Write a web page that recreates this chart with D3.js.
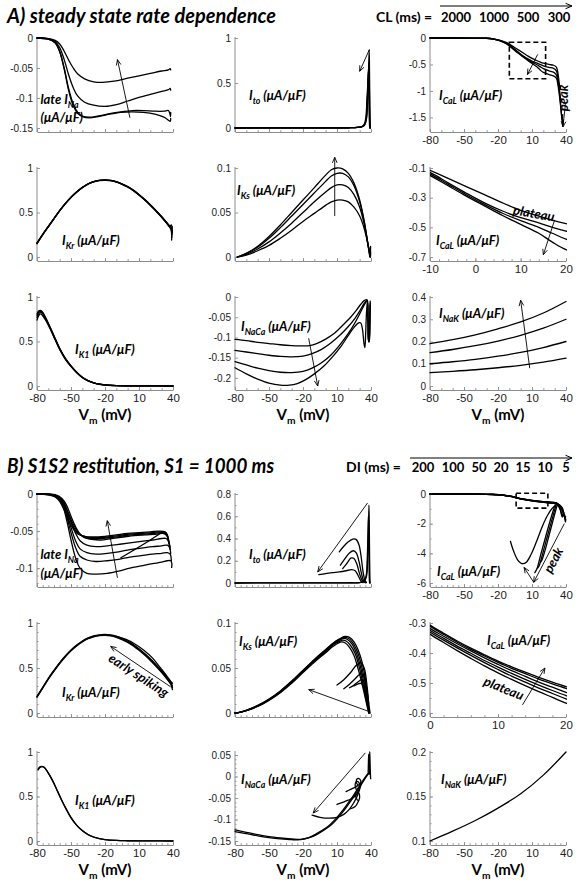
<!DOCTYPE html>
<html><head><meta charset="utf-8"><title>I-V relationships</title>
<script src="https://cdn.jsdelivr.net/npm/d3@7"></script>
<style>html,body{margin:0;padding:0;background:#fff;}</style></head>
<body><svg id="chart" width="576" height="881" xmlns="http://www.w3.org/2000/svg"></svg>
<script>
// ---------------- DATA ----------------
const vDomain = [-80, 40];
const vTicks = [-80, -50, -20, 10, 40];
const vTicksZoomA = [-10, 0, 10, 20];
const vTicksZoomB = [0, 10, 20];

const tLateNaA = [0, -0.05, -0.1, -0.15];
const tUnit = [0, 0.5, 1];
const tCaLA = [0, -0.5, -1, -1.5];
const tKs = [0, 0.05, 0.1];
const tCaLZoomA = [-0.1, -0.3, -0.5, -0.7];
const tNaCaA = [0, -0.05, -0.1, -0.15, -0.2];
const tNaKA = [0, 0.1, 0.2, 0.3, 0.4];
const tLateNaB = [0, -0.05, -0.1];
const tItoB = [0, 0.2, 0.4, 0.6, 0.8];
const tCaLB = [0, -2, -4, -6];
const tCaLZoomB = [-0.3, -0.4, -0.5, -0.6];
const tNaCaB = [0.05, 0, -0.05, -0.1, -0.15];
const tNaKB = [0.1, 0.15, 0.2];

const clValuesA = ["2000", "1000", "500", "300"];
const diValuesB = ["200", "100", "50", "20", "15", "10", "5"];

// A) late INa
const aLateNa2000 = [[-80,0],[-70,-0.002],[-64,-0.008],[-60,-0.023],[-56,-0.052],[-52,-0.088],[-48,-0.113],[-44,-0.126],[-40,-0.131],[-34,-0.133],[-26,-0.131],[-16,-0.127],[-6,-0.124],[4,-0.123],[14,-0.124],[24,-0.127],[32,-0.132],[36,-0.137],[37.5,-0.139],[38,-0.134]];
const aLateNa1000 = [[-80,0],[-70,-0.002],[-64,-0.008],[-60,-0.022],[-56,-0.05],[-52,-0.085],[-48,-0.11],[-44,-0.124],[-40,-0.13],[-34,-0.132],[-26,-0.13],[-16,-0.126],[-6,-0.123],[4,-0.121],[14,-0.121],[24,-0.122],[32,-0.122],[36,-0.121],[37.2,-0.126],[37.8,-0.131],[38,-0.124]];
const aLateNa500 = [[-80,0],[-70,-0.001],[-64,-0.006],[-60,-0.016],[-56,-0.036],[-52,-0.062],[-48,-0.083],[-44,-0.097],[-38,-0.107],[-30,-0.112],[-20,-0.114],[-10,-0.111],[0,-0.105],[10,-0.099],[20,-0.094],[30,-0.089],[36,-0.086],[37.5,-0.084],[38,-0.087]];
const aLateNa300 = [[-80,0],[-70,-0.001],[-64,-0.004],[-60,-0.01],[-56,-0.022],[-52,-0.037],[-48,-0.05],[-44,-0.06],[-38,-0.068],[-30,-0.073],[-22,-0.074],[-12,-0.072],[0,-0.067],[10,-0.063],[20,-0.059],[30,-0.055],[36,-0.053],[37.5,-0.051],[38,-0.053]];
const aLateNaArrow = [[2,-0.133],[-9,-0.036]];

// A) Ito
const aIto2000 = [[-80,0],[-40,0.001],[0,0.002],[20,0.003],[28,0.006],[32,0.014],[34.5,0.035],[36,0.1],[37,0.3],[37.8,0.6],[38.4,0.87],[38.7,0.6],[39,0.25],[39.3,0.04],[39.5,0]];
const aIto1000 = [[-80,0],[-40,0.001],[0,0.002],[20,0.003],[28,0.006],[32,0.014],[34.3,0.035],[35.8,0.1],[36.8,0.3],[37.6,0.55],[38.2,0.73],[38.5,0.5],[38.8,0.2],[39.1,0.03],[39.3,0]];
const aIto500 = [[-80,0],[-40,0.001],[0,0.002],[20,0.003],[28,0.006],[32,0.015],[34.1,0.035],[35.6,0.1],[36.6,0.3],[37.4,0.52],[38,0.69],[38.3,0.48],[38.6,0.2],[38.9,0.03],[39.1,0]];
const aIto300 = [[-80,0],[-40,0.001],[0,0.002],[20,0.003],[28,0.007],[32,0.016],[34,0.04],[35.4,0.11],[36.4,0.3],[37.2,0.5],[37.8,0.63],[38.1,0.45],[38.4,0.2],[38.7,0.03],[38.9,0]];
const aItoArrow = [[38.5,0.87],[30,0.63]];

// A) ICaL (full range; the zoomed plateau panel shows the same traces)
const aCaL2000 = [[-80,0],[-45,-0.001],[-30,-0.005],[-24,-0.018],[-18,-0.045],[-14,-0.075],[-10,-0.116],[-6,-0.17],[-2,-0.225],[2,-0.28],[6,-0.335],[10,-0.385],[14,-0.425],[17,-0.452],[20,-0.475],[25,-0.5],[29,-0.515],[31.5,-0.55],[33,-0.68],[34,-0.85],[34.8,-0.97],[35.4,-0.9]];
const aCaL1000 = [[-80,0],[-45,-0.001],[-30,-0.005],[-24,-0.02],[-18,-0.05],[-14,-0.085],[-10,-0.13],[-6,-0.2],[-2,-0.27],[2,-0.335],[6,-0.39],[10,-0.435],[14,-0.47],[17,-0.5],[20,-0.525],[25,-0.555],[29,-0.575],[31.5,-0.62],[33,-0.78],[34.5,-1.02],[35.6,-1.22],[36.2,-1.15]];
const aCaL500 = [[-80,0],[-45,-0.001],[-30,-0.005],[-24,-0.021],[-18,-0.053],[-14,-0.09],[-10,-0.14],[-6,-0.21],[-2,-0.28],[2,-0.345],[6,-0.405],[10,-0.455],[14,-0.5],[17,-0.54],[20,-0.58],[25,-0.62],[29,-0.645],[31.5,-0.7],[33,-0.85],[34.6,-1.1],[35.9,-1.42],[36.6,-1.56],[37.1,-1.45]];
const aCaL300 = [[-80,0],[-45,-0.001],[-30,-0.006],[-24,-0.022],[-18,-0.056],[-14,-0.095],[-10,-0.15],[-6,-0.22],[-2,-0.29],[2,-0.355],[6,-0.42],[10,-0.48],[14,-0.54],[17,-0.6],[20,-0.65],[25,-0.69],[29,-0.715],[31.5,-0.76],[33,-0.9],[34.8,-1.2],[36.3,-1.5],[37.2,-1.67],[37.7,-1.55]];
const aCaLBox = [[-10,-0.08],[22,-0.77]];
const aCaLBoxArrow = [[15,-0.31],[6,-0.69]];
const aCaLPeakArrow = [[39.5,-1.25],[37.3,-1.68]];
const aCaLPlateauArrow = [[17.5,-0.45],[15,-0.685]];

// A) IKr
const aKr2000 = [[-80,0.15],[-75,0.25],[-70,0.34],[-65,0.43],[-60,0.52],[-55,0.6],[-50,0.67],[-45,0.73],[-40,0.78],[-35,0.82],[-30,0.845],[-25,0.86],[-20,0.865],[-15,0.86],[-10,0.845],[-5,0.82],[0,0.79],[5,0.75],[10,0.7],[15,0.645],[20,0.585],[25,0.52],[30,0.45],[34,0.39],[37,0.34],[38.5,0.3],[39,0.22]];
const aKr1000 = [[-80,0.16],[-75,0.255],[-70,0.345],[-65,0.435],[-60,0.522],[-55,0.602],[-50,0.672],[-45,0.732],[-40,0.782],[-35,0.822],[-30,0.848],[-25,0.862],[-20,0.867],[-15,0.862],[-10,0.847],[-5,0.822],[0,0.792],[5,0.752],[10,0.703],[15,0.648],[20,0.588],[25,0.524],[30,0.455],[34,0.396],[37,0.35],[38.5,0.33],[39,0.26],[39.3,0.34]];
const aKr500 = [[-80,0.155],[-75,0.252],[-70,0.342],[-65,0.432],[-60,0.52],[-55,0.6],[-50,0.67],[-45,0.73],[-40,0.78],[-35,0.82],[-30,0.846],[-25,0.86],[-20,0.864],[-15,0.858],[-10,0.843],[-5,0.818],[0,0.787],[5,0.747],[10,0.697],[15,0.642],[20,0.582],[25,0.517],[30,0.448],[34,0.388],[37,0.345],[38.6,0.36],[39.2,0.25],[39.5,0.3]];
const aKr300 = [[-80,0.15],[-75,0.249],[-70,0.339],[-65,0.429],[-60,0.518],[-55,0.598],[-50,0.668],[-45,0.728],[-40,0.778],[-35,0.818],[-30,0.843],[-25,0.858],[-20,0.862],[-15,0.857],[-10,0.842],[-5,0.817],[0,0.786],[5,0.746],[10,0.696],[15,0.641],[20,0.581],[25,0.516],[30,0.446],[34,0.386],[37,0.335],[38.3,0.31],[38.8,0.19]];

// A) IKs
const aKs300 = [[-78,0],[-70,0.004],[-60,0.012],[-50,0.023],[-40,0.036],[-30,0.05],[-20,0.064],[-10,0.078],[0,0.092],[5,0.098],[10,0.1],[15,0.099],[20,0.094],[25,0.083],[30,0.064],[34,0.04],[37,0.016],[38.5,0.004],[39,0],[39.4,0.01],[39.7,0.002]];
const aKs500 = [[-78,0],[-70,0.004],[-60,0.011],[-50,0.021],[-40,0.033],[-30,0.046],[-20,0.059],[-10,0.072],[0,0.085],[5,0.091],[10,0.094],[15,0.094],[20,0.09],[25,0.08],[30,0.062],[34,0.04],[37,0.017],[38.5,0.005],[39.2,0]];
const aKs1000 = [[-78,0],[-70,0.003],[-60,0.009],[-50,0.017],[-40,0.027],[-30,0.038],[-20,0.05],[-10,0.062],[0,0.073],[5,0.078],[10,0.081],[15,0.081],[20,0.078],[25,0.07],[30,0.056],[34,0.037],[37,0.017],[38.7,0.005],[39.4,0],[39.6,0.012]];
const aKs2000 = [[-78,0],[-70,0.002],[-60,0.007],[-50,0.013],[-40,0.021],[-30,0.03],[-20,0.04],[-10,0.049],[0,0.058],[5,0.062],[10,0.064],[15,0.064],[20,0.062],[25,0.056],[30,0.046],[34,0.032],[37,0.016],[38.8,0.005],[39.6,0]];
const aKsArrow = [[8,0.046],[8,0.112]];

// A) IK1
const aK1_2000 = [[-80,0.74],[-78.5,0.79],[-77,0.81],[-75,0.79],[-72,0.73],[-68,0.63],[-64,0.52],[-60,0.41],[-55,0.3],[-50,0.22],[-45,0.15],[-40,0.095],[-35,0.058],[-30,0.034],[-25,0.019],[-20,0.011],[-10,0.004],[0,0.002],[20,0.001],[40,0]];
const aK1_1000 = [[-80,0.77],[-78.5,0.81],[-77,0.83],[-75,0.81],[-72,0.745],[-68,0.64],[-64,0.525],[-60,0.415],[-55,0.305],[-50,0.222],[-45,0.152],[-40,0.096],[-35,0.059],[-30,0.035],[-25,0.02],[-20,0.011],[-10,0.004],[0,0.002],[20,0.001],[40,0]];
const aK1_500 = [[-80,0.79],[-78.5,0.83],[-77,0.84],[-75,0.82],[-72,0.75],[-68,0.645],[-64,0.53],[-60,0.42],[-55,0.31],[-50,0.225],[-45,0.154],[-40,0.097],[-35,0.06],[-30,0.035],[-25,0.02],[-20,0.012],[-10,0.004],[0,0.002],[20,0.001],[40,0]];
const aK1_300 = [[-80,0.81],[-78.5,0.845],[-77,0.85],[-75,0.83],[-72,0.76],[-68,0.65],[-64,0.535],[-60,0.425],[-55,0.312],[-50,0.227],[-45,0.155],[-40,0.098],[-35,0.06],[-30,0.036],[-25,0.02],[-20,0.012],[-10,0.004],[0,0.002],[20,0.001],[40,0]];

// A) INaCa
const aNaCa2000 = [[-80,-0.105],[-70,-0.108],[-60,-0.112],[-50,-0.115],[-40,-0.118],[-30,-0.12],[-20,-0.121],[-14,-0.12],[-8,-0.115],[0,-0.104],[8,-0.089],[15,-0.07],[22,-0.05],[27,-0.033],[31,-0.018],[34,-0.009],[36.5,-0.007],[37.2,-0.04],[37.6,-0.1],[38,-0.11],[38.6,-0.1],[39,-0.05],[39.3,-0.01]];
const aNaCa1000 = [[-80,-0.132],[-70,-0.136],[-60,-0.14],[-50,-0.144],[-40,-0.147],[-30,-0.148],[-20,-0.146],[-12,-0.14],[-4,-0.13],[4,-0.115],[12,-0.096],[20,-0.073],[26,-0.052],[30,-0.035],[33,-0.02],[35,-0.012],[36.5,-0.009],[37.3,-0.05],[37.7,-0.105],[38.2,-0.112],[38.8,-0.08],[39.2,-0.02]];
const aNaCa500 = [[-80,-0.16],[-70,-0.168],[-60,-0.176],[-50,-0.182],[-40,-0.186],[-30,-0.187],[-20,-0.184],[-12,-0.176],[-4,-0.163],[4,-0.145],[12,-0.12],[20,-0.09],[26,-0.063],[30,-0.042],[33,-0.025],[35,-0.015],[36.5,-0.01],[37.5,-0.06],[38,-0.108],[38.5,-0.11],[39,-0.06],[39.4,-0.015]];
const aNaCa300 = [[-80,-0.175],[-70,-0.19],[-60,-0.203],[-50,-0.213],[-40,-0.218],[-32,-0.218],[-25,-0.214],[-18,-0.205],[-10,-0.19],[-2,-0.172],[6,-0.148],[14,-0.12],[20,-0.095],[25,-0.075],[29,-0.064],[31,-0.064],[32.5,-0.08],[33.8,-0.115],[34.6,-0.125],[35.3,-0.09],[36,-0.04],[36.8,-0.012]];
const aNaCaArrow = [[-15,-0.102],[-7,-0.22]];

// A) INaK
const aNaK300 = [[-80,0.19],[-60,0.208],[-40,0.23],[-20,0.257],[0,0.288],[20,0.328],[40,0.38]];
const aNaK500 = [[-80,0.15],[-60,0.164],[-40,0.181],[-20,0.202],[0,0.228],[20,0.26],[40,0.3]];
const aNaK1000 = [[-80,0.1],[-60,0.109],[-40,0.12],[-20,0.134],[0,0.151],[20,0.173],[40,0.2]];
const aNaK2000 = [[-80,0.06],[-60,0.066],[-40,0.073],[-20,0.082],[0,0.093],[20,0.107],[40,0.125]];
const aNaKArrow = [[8,0.08],[0,0.385]];

// B) late INa
const bLateNa1 = [[-80,0],[-70,-0.001],[-64,-0.004],[-60,-0.01],[-56,-0.022],[-52,-0.036],[-48,-0.047],[-44,-0.054],[-38,-0.057],[-30,-0.058],[-20,-0.057],[-10,-0.055],[0,-0.053],[10,-0.052],[20,-0.051],[28,-0.05],[33,-0.051],[35,-0.055],[36,-0.062]];
const bLateNa2 = [[-80,0],[-68,-0.001],[-62,-0.004],[-58,-0.011],[-54,-0.024],[-50,-0.038],[-46,-0.049],[-42,-0.055],[-36,-0.058],[-28,-0.059],[-18,-0.058],[-8,-0.056],[2,-0.054],[12,-0.053],[22,-0.052],[29,-0.051],[33.5,-0.052],[35.5,-0.058],[36.5,-0.066]];
const bLateNa3 = [[-80,0],[-66,-0.001],[-60,-0.005],[-56,-0.013],[-52,-0.027],[-48,-0.041],[-44,-0.051],[-40,-0.057],[-34,-0.06],[-26,-0.06],[-16,-0.059],[-6,-0.057],[4,-0.055],[14,-0.054],[24,-0.053],[30,-0.052],[34,-0.054],[36,-0.062],[37,-0.07]];
const bLateNa4 = [[-80,0],[-64,-0.001],[-58,-0.006],[-54,-0.015],[-50,-0.03],[-46,-0.044],[-42,-0.054],[-38,-0.059],[-32,-0.061],[-24,-0.062],[-14,-0.06],[-4,-0.058],[6,-0.056],[16,-0.055],[26,-0.054],[31,-0.053],[34.5,-0.056],[36.5,-0.066],[37.5,-0.075]];
const bLateNa5 = [[-80,0],[-64,-0.002],[-58,-0.008],[-54,-0.02],[-50,-0.037],[-46,-0.053],[-42,-0.063],[-36,-0.069],[-28,-0.071],[-18,-0.07],[-8,-0.068],[2,-0.066],[12,-0.064],[22,-0.062],[30,-0.06],[34,-0.06],[36,-0.064],[37.5,-0.072]];
const bLateNa6 = [[-80,0],[-64,-0.002],[-58,-0.01],[-54,-0.025],[-50,-0.045],[-46,-0.063],[-42,-0.074],[-36,-0.079],[-28,-0.081],[-18,-0.08],[-8,-0.078],[2,-0.075],[12,-0.073],[22,-0.071],[30,-0.07],[35,-0.069],[37,-0.072],[38,-0.08]];
const bLateNa7 = [[-80,0],[-64,-0.002],[-58,-0.011],[-54,-0.029],[-50,-0.052],[-46,-0.072],[-42,-0.084],[-36,-0.089],[-28,-0.091],[-18,-0.09],[-8,-0.088],[2,-0.085],[12,-0.083],[22,-0.081],[30,-0.08],[35,-0.079],[37.5,-0.081],[38.5,-0.09]];
const bLateNa8 = [[-80,0],[-64,-0.003],[-58,-0.013],[-54,-0.034],[-50,-0.062],[-46,-0.086],[-42,-0.1],[-36,-0.107],[-28,-0.108],[-18,-0.107],[-8,-0.104],[2,-0.1],[12,-0.097],[22,-0.094],[30,-0.092],[35,-0.09],[38,-0.09],[39,-0.094],[38.8,-0.099]];
const bLateNaTrace = [[-6,-0.086],[6,-0.075],[18,-0.064],[31,-0.051]];
const bLateNaArrow = [[-9,-0.113],[-18,-0.036]];

// B) Ito
const bIto1 = [[-80,0],[-40,0.001],[0,0.001],[20,0.002],[30,0.004],[34,0.015],[36,0.06],[37,0.2],[37.7,0.45],[38.2,0.7],[38.5,0.5],[38.8,0.2],[39.1,0.03],[39.3,0]];
const bIto2 = [[-80,0],[-40,0.001],[0,0.001],[20,0.002],[30,0.004],[34,0.016],[35.8,0.07],[36.7,0.22],[37.3,0.45],[37.7,0.6],[38,0.42],[38.3,0.15],[38.6,0.02],[38.8,0]];
const bIto3 = [[12,0.28],[16,0.33],[20,0.37],[24,0.395],[27,0.39],[29.5,0.34],[31.5,0.22],[33,0.1],[34.5,0.03],[36,0.005]];
const bIto4 = [[13,0.16],[17,0.22],[21,0.27],[24.5,0.29],[27,0.27],[29.5,0.19],[31.5,0.09],[33.5,0.02],[35.5,0.003]];
const bIto5 = [[15,0.13],[19,0.18],[22.5,0.225],[25,0.22],[27.5,0.17],[30,0.08],[32.5,0.02],[35,0.002]];
const bIto6 = [[-6,0.075],[0,0.085],[6,0.093],[12,0.1],[18,0.11],[23,0.12],[26,0.11],[28.5,0.07],[31,0.02],[33,0.003]];
const bItoArrow = [[37,0.72],[-7,0.1]];

// B) ICaL (full range; zoomed plateau panel shows the same traces)
const bCaL1 = [[-80,0],[-40,-0.008],[-25,-0.03],[-15,-0.08],[-8,-0.16],[-4,-0.23],[0,-0.307],[2,-0.334],[4,-0.36],[6,-0.384],[8,-0.406],[10,-0.427],[12,-0.446],[14,-0.464],[16,-0.481],[18,-0.497],[20,-0.512],[23,-0.532],[26,-0.55],[29,-0.565],[31.5,-0.6],[33.5,-0.75],[35,-1.05],[36.2,-1.45],[36.8,-1.55],[37.3,-1.35]];
const bCaL2 = [[-80,0],[-40,-0.008],[-25,-0.031],[-15,-0.082],[-8,-0.163],[-4,-0.235],[0,-0.311],[2,-0.338],[4,-0.364],[6,-0.388],[8,-0.41],[10,-0.431],[12,-0.451],[14,-0.469],[16,-0.487],[18,-0.503],[20,-0.518],[23,-0.538],[26,-0.556],[29,-0.572],[32,-0.62],[34,-0.8],[35.6,-1.2],[36.8,-1.5],[37.5,-1.4]];
const bCaL3 = [[-80,0],[-40,-0.008],[-25,-0.032],[-15,-0.085],[-8,-0.167],[-4,-0.242],[0,-0.318],[2,-0.344],[4,-0.369],[6,-0.393],[8,-0.416],[10,-0.438],[12,-0.459],[14,-0.478],[16,-0.497],[18,-0.514],[20,-0.531],[23,-0.553],[26,-0.572],[29,-0.59],[32.5,-0.65],[35,-0.85],[37,-1.2],[38.2,-1.5],[38.8,-1.4]];
const bCaL4 = [[-80,0],[-40,-0.009],[-25,-0.033],[-15,-0.087],[-8,-0.171],[-4,-0.248],[0,-0.324],[2,-0.351],[4,-0.377],[6,-0.401],[8,-0.425],[10,-0.447],[12,-0.468],[14,-0.488],[16,-0.507],[18,-0.525],[20,-0.542],[23,-0.565],[26,-0.585],[29,-0.603],[33,-0.68],[36,-0.9],[38.2,-1.3],[39.2,-1.7],[39.6,-1.5]];
const bCaL5 = [[-80,0],[-40,-0.009],[-25,-0.034],[-15,-0.089],[-8,-0.175],[-4,-0.253],[0,-0.33],[2,-0.357],[4,-0.383],[6,-0.408],[8,-0.432],[10,-0.455],[12,-0.477],[14,-0.497],[16,-0.517],[18,-0.535],[20,-0.553],[23,-0.578],[26,-0.6],[29,-0.62],[32,-0.67],[34.5,-0.75],[36.8,-0.95],[38.6,-1.5],[39.5,-1.9],[39.8,-1.7]];
const bCaL6 = [[-80,0],[-40,-0.009],[-25,-0.035],[-15,-0.091],[-8,-0.18],[-4,-0.26],[0,-0.337],[2,-0.365],[4,-0.392],[6,-0.418],[8,-0.443],[10,-0.466],[12,-0.488],[14,-0.509],[16,-0.529],[18,-0.548],[20,-0.567],[23,-0.592],[26,-0.615],[29,-0.635],[31.5,-0.7],[33.5,-0.85],[35.5,-1.1],[36.5,-1.0]];
const bCaLS2a = [[30,-0.8],[26,-1.8],[22,-2.9],[18,-4.0],[14.5,-5.0],[12.5,-5.3]];
const bCaLS2b = [[31,-0.8],[27,-1.9],[23,-3.0],[19.5,-4.0],[16.5,-4.8],[15,-5.0]];
const bCaLS2c = [[32,-0.8],[28.5,-1.8],[25,-2.8],[21.5,-3.8],[18.5,-4.5],[17.5,-4.6]];
const bCaLU = [[-9,-3.2],[-6,-3.9],[-3,-4.4],[0,-4.65],[2,-4.7],[5,-4.6],[9,-4.1],[14,-3.2],[19,-2.2],[24,-1.4],[28,-0.95],[31,-0.75]];
const bCaLBox = [[-4,0.05],[24,-0.95]];
const bCaLPeakArrow1 = [[38.5,-2.0],[11.5,-5.95]];
const bCaLPeakArrow2 = [[11.5,-5.95],[3,-4.95]];
const bCaLPlateauArrow = [[13.6,-0.573],[16.9,-0.45]];

// B) IKr
const bKr1 = [[-80,0.18],[-75,0.28],[-70,0.38],[-65,0.47],[-60,0.555],[-55,0.63],[-50,0.695],[-45,0.75],[-40,0.795],[-35,0.83],[-30,0.852],[-25,0.864],[-20,0.867],[-15,0.862],[-10,0.847],[-5,0.823],[0,0.792],[5,0.752],[10,0.705],[15,0.652],[20,0.593],[25,0.528],[30,0.458],[35,0.382],[38,0.335],[39.5,0.3]];
const bKr2 = [[-80,0.185],[-75,0.285],[-70,0.385],[-65,0.475],[-60,0.56],[-55,0.635],[-50,0.7],[-45,0.755],[-40,0.8],[-35,0.835],[-30,0.857],[-25,0.869],[-20,0.872],[-15,0.867],[-10,0.853],[-5,0.83],[0,0.8],[5,0.76],[10,0.713],[15,0.66],[20,0.602],[25,0.538],[30,0.468],[35,0.392],[38,0.345],[39.5,0.28]];
const bKr3 = [[-80,0.175],[-75,0.275],[-70,0.375],[-65,0.465],[-60,0.55],[-55,0.625],[-50,0.69],[-45,0.745],[-40,0.79],[-35,0.825],[-30,0.847],[-25,0.859],[-20,0.862],[-15,0.857],[-10,0.841],[-5,0.816],[0,0.785],[5,0.744],[10,0.696],[15,0.643],[20,0.583],[25,0.518],[30,0.448],[35,0.372],[38,0.32],[39.5,0.26]];
const bKrEarly = [[-10,0.85],[-2,0.82],[6,0.77],[14,0.7],[22,0.61],[29,0.5],[34,0.42],[37.5,0.36],[39.5,0.33]];
const bKrArrow = [[38,0.29],[-15,0.74]];

// B) IKs
const bKs1 = [[-80,0],[-75,0.001],[-70,0.003],[-60,0.008],[-50,0.015],[-40,0.024],[-30,0.035],[-20,0.047],[-10,0.059],[0,0.07],[6,0.077],[12,0.082],[17,0.085],[21,0.084],[25,0.079],[29,0.069],[32,0.057],[35,0.038],[37,0.02],[38.5,0.006],[39.2,0]];
const bKs2 = [[-80,0],[-75,0.001],[-70,0.003],[-60,0.0085],[-50,0.0155],[-40,0.0245],[-30,0.0355],[-20,0.0475],[-10,0.0595],[0,0.0705],[6,0.077],[12,0.082],[16,0.084],[20,0.083],[24,0.078],[28,0.068],[31,0.056],[34,0.038],[36.5,0.02],[38,0.006],[38.8,0]];
const bKs3 = [[-80,0],[-75,0.001],[-70,0.0028],[-60,0.0078],[-50,0.0148],[-40,0.0238],[-30,0.0345],[-20,0.0465],[-10,0.0585],[0,0.069],[6,0.076],[12,0.081],[16,0.083],[19,0.082],[23,0.077],[27,0.067],[30,0.055],[33,0.038],[35.5,0.02],[37.5,0.006],[38.5,0]];
const bKs4 = [[-80,0],[-75,0.001],[-70,0.0027],[-60,0.0075],[-50,0.0145],[-40,0.0232],[-30,0.0338],[-20,0.0458],[-10,0.0575],[0,0.068],[6,0.075],[11,0.079],[15,0.081],[18,0.08],[22,0.075],[26,0.066],[29,0.054],[32,0.038],[34.5,0.022],[37,0.007],[38.3,0]];
const bKs5 = [[-80,0],[-75,0.001],[-70,0.0026],[-60,0.0072],[-50,0.014],[-40,0.0226],[-30,0.033],[-20,0.045],[-10,0.0565],[0,0.067],[6,0.0735],[10,0.077],[14,0.079],[17,0.078],[21,0.073],[25,0.064],[28,0.052],[31,0.038],[34,0.022],[36.5,0.008],[38,0]];
const bKsArc1 = [[10,0.031],[16,0.037],[22,0.045],[27,0.053],[31,0.056],[34,0.05],[36.5,0.03],[38,0.01]];
const bKsArc2 = [[16,0.027],[21,0.032],[26,0.038],[30,0.043],[33,0.043],[35.5,0.032],[37.5,0.012]];
const bKsArc3 = [[21,0.028],[25,0.031],[29,0.035],[32,0.037],[34.5,0.032],[36.5,0.018],[38,0.005]];
const bKsArc4 = [[25,0.03],[28,0.032],[31,0.033],[33.5,0.03],[35.5,0.02],[37,0.008]];
const bKsArrow = [[37.5,0.002],[-15,0.026]];

// B) IK1
const bK1a = [[-79,0.8],[-77,0.83],[-74,0.83],[-70,0.76],[-66,0.67],[-62,0.56],[-58,0.45],[-54,0.35],[-50,0.26],[-45,0.175],[-40,0.115],[-35,0.072],[-30,0.044],[-25,0.026],[-20,0.015],[-10,0.006],[0,0.003],[20,0.001],[40,0]];
const bK1b = [[-79,0.81],[-77,0.835],[-74,0.832],[-70,0.765],[-66,0.675],[-62,0.565],[-58,0.455],[-54,0.355],[-50,0.265],[-45,0.178],[-40,0.117],[-35,0.073],[-30,0.045],[-25,0.027],[-20,0.016],[-10,0.006],[0,0.003],[20,0.001],[40,0]];

// B) INaCa
const bNaCa1 = [[-80,-0.124],[-70,-0.13],[-60,-0.135],[-50,-0.14],[-40,-0.143],[-30,-0.145],[-22,-0.146],[-15,-0.142],[-8,-0.133],[0,-0.12],[5,-0.109],[10,-0.095],[15,-0.079],[20,-0.061],[25,-0.042],[30,-0.021],[34,-0.005],[37,0.006],[38.5,0.01]];
const bNaCa2 = [[-80,-0.128],[-70,-0.133],[-60,-0.138],[-50,-0.142],[-40,-0.145],[-30,-0.147],[-22,-0.147],[-15,-0.143],[-8,-0.135],[0,-0.122],[5,-0.112],[10,-0.099],[15,-0.083],[20,-0.065],[25,-0.046],[30,-0.025],[34,-0.008],[37,0.004],[38.5,0.009]];
const bNaCaUp1 = [[38.3,0.005],[38.6,0.035],[38.9,0.058],[39.2,0.03],[39.5,0.005],[39.7,-0.005]];
const bNaCaUp2 = [[37.5,0.01],[37.8,0.04],[38,0.052],[38.3,0.02]];
const bNaCaCurl1 = [[-12,-0.09],[-5,-0.095],[3,-0.097],[10,-0.095],[16,-0.088],[21,-0.076],[25,-0.06],[28,-0.045],[30,-0.03],[31,-0.02]];
const bNaCaCurl2 = [[10,-0.065],[15,-0.06],[20,-0.055],[24,-0.05],[27,-0.043],[29,-0.033],[30,-0.022],[29,-0.013],[27,-0.012],[26,-0.02],[27,-0.03]];
const bNaCaCurl3 = [[18,-0.035],[22,-0.03],[26,-0.025],[29,-0.02],[31,-0.014],[30,-0.006],[28,-0.005],[27,-0.012],[28.5,-0.02]];
const bNaCaCurl4 = [[22,-0.075],[26,-0.07],[28.5,-0.06],[30,-0.048],[29,-0.038],[27,-0.038],[26.5,-0.047],[28,-0.055]];
const bNaCaArrow = [[35,0.055],[-11,-0.085]];

// B) INaK
const bNaK = [[-80,0.1],[-60,0.111],[-40,0.123],[-20,0.137],[0,0.153],[20,0.174],[40,0.2]];

// ---------------- LAYOUT ----------------
const colX = [37, 235, 430], W = 136;
const rowTop = [[38, 168, 297], [494, 623, 752]];
const rowBot = [[128, 257, 386], [583, 713, 841]];
const GAP = 4;
const tickFont = "'Liberation Sans', Arial, Helvetica, sans-serif";
const labFont = "Lato, 'Open Sans', 'DejaVu Sans', sans-serif";
const axisColor = "#8c8c8c";
const clCentersA = [456, 494, 528, 559];
const diCentersB = [423, 453, 479, 501, 523, 545, 566];

const I = (sub) => [["I"], [sub, "s"], [" (\u03bcA/\u03bcF)"]];

const panels = [
  {s:0,r:0,c:0, yd:[-0.15,0], yt:tLateNaA, curves:[aLateNa2000,aLateNa1000,aLateNa500,aLateNa300], arrows:[aLateNaArrow],
    texts:[{p:[["late I"],["Na","s"]],dx:3.5,dy:66},{p:[["(\u03bcA/\u03bcF)"]],dx:3.5,dy:84}]},
  {s:0,r:0,c:1, yd:[0,1], yt:tUnit, curves:[aIto2000,aIto1000,aIto500,aIto300], arrows:[aItoArrow],
    texts:[{p:I("to"),dx:14,dy:62}]},
  {s:0,r:0,c:2, yd:[-1.7,0], yt:tCaLA, xl:true, curves:[aCaL2000,aCaL1000,aCaL500,aCaL300], arrows:[aCaLBoxArrow,aCaLPeakArrow], box:aCaLBox,
    texts:[{p:I("CaL"),dx:9,dy:62},{p:[["peak"]],dx:133,dy:60,rot:-90}]},
  {s:0,r:1,c:0, yd:[0,1], yt:tUnit, curves:[aKr2000,aKr1000,aKr500,aKr300], arrows:[],
    texts:[{p:I("Kr"),dx:25,dy:77}]},
  {s:0,r:1,c:1, yd:[0,0.1], yt:tKs, curves:[aKs2000,aKs1000,aKs500,aKs300], arrows:[aKsArrow],
    texts:[{p:I("Ks"),dx:2,dy:27}]},
  {s:0,r:1,c:2, yd:[-0.7,-0.1], yt:tCaLZoomA, xd:[-10,20], xt:vTicksZoomA, xl:true, clip:true, curves:[aCaL2000,aCaL1000,aCaL500,aCaL300], arrows:[aCaLPlateauArrow],
    texts:[{p:I("CaL"),dx:6,dy:77},{p:[["plateau"]],dx:104,dy:45,rot:10}]},
  {s:0,r:2,c:0, yd:[0,1], yt:tUnit, xl:true, curves:[aK1_2000,aK1_1000,aK1_500,aK1_300], arrows:[],
    texts:[{p:I("K1"),dx:38,dy:57}]},
  {s:0,r:2,c:1, yd:[-0.22,0], yt:tNaCaA, xl:true, curves:[aNaCa2000,aNaCa1000,aNaCa500,aNaCa300], arrows:[aNaCaArrow],
    texts:[{p:I("NaCa"),dx:6,dy:34}]},
  {s:0,r:2,c:2, yd:[0,0.4], yt:tNaKA, xl:true, curves:[aNaK2000,aNaK1000,aNaK500,aNaK300], arrows:[aNaKArrow],
    texts:[{p:I("NaK"),dx:9,dy:21}]},

  {s:1,r:0,c:0, yd:[-0.12,0], yt:tLateNaB, minor:0.01, curves:[bLateNa1,bLateNa2,bLateNa3,bLateNa4,bLateNa5,bLateNa6,bLateNa7,bLateNa8,bLateNaTrace], arrows:[bLateNaArrow],
    texts:[{p:[["late I"],["Na","s"]],dx:3.5,dy:65},{p:[["(\u03bcA/\u03bcF)"]],dx:3.5,dy:84}]},
  {s:1,r:0,c:1, yd:[0,0.8], yt:tItoB, minor:0.1, curves:[bIto1,bIto2,bIto3,bIto4,bIto5,bIto6], arrows:[bItoArrow],
    texts:[{p:I("to"),dx:14,dy:65}]},
  {s:1,r:0,c:2, yd:[-6,0], yt:tCaLB, minor:1, xl:true, curves:[bCaL1,bCaL2,bCaL3,bCaL4,bCaL5,bCaL6,bCaLS2a,bCaLS2b,bCaLS2c,bCaLU], arrows:[bCaLPeakArrow1,bCaLPeakArrow2], box:bCaLBox,
    texts:[{p:I("CaL"),dx:7,dy:82},{p:[["peak"]],dx:123,dy:66,rot:-62}]},
  {s:1,r:1,c:0, yd:[0,1], yt:tUnit, minor:0.1, curves:[bKr1,bKr2,bKr3,bKrEarly], arrows:[bKrArrow],
    texts:[{p:I("Kr"),dx:25,dy:74},{p:[["early spiking"]],dx:102,dy:52,rot:33}]},
  {s:1,r:1,c:1, yd:[0,0.1], yt:tKs, minor:0.01, curves:[bKs1,bKs2,bKs3,bKs4,bKs5,bKsArc1,bKsArc2,bKsArc3,bKsArc4], arrows:[bKsArrow],
    texts:[{p:I("Ks"),dx:4,dy:23}]},
  {s:1,r:1,c:2, yd:[-0.6,-0.3], yt:tCaLZoomB, minor:0.05, xd:[0,20], xt:vTicksZoomB, xl:true, clip:true, curves:[bCaL1,bCaL2,bCaL3,bCaL4,bCaL5,bCaL6], arrows:[bCaLPlateauArrow],
    texts:[{p:I("CaL"),dx:57,dy:22},{p:[["plateau"]],dx:74,dy:65,rot:22}]},
  {s:1,r:2,c:0, yd:[0,1], yt:tUnit, minor:0.1, xl:true, curves:[bK1a,bK1b], arrows:[],
    texts:[{p:I("K1"),dx:38,dy:53}]},
  {s:1,r:2,c:1, yd:[-0.15,0.057], yt:tNaCaB, minor:0.01, xl:true, curves:[bNaCa1,bNaCa2,bNaCaUp1,bNaCaUp2,bNaCaCurl1,bNaCaCurl2,bNaCaCurl3,bNaCaCurl4], arrows:[bNaCaArrow],
    texts:[{p:I("NaCa"),dx:6,dy:32}]},
  {s:1,r:2,c:2, yd:[0.1,0.2], yt:tNaKB, minor:0.01, xl:true, curves:[bNaK], arrows:[],
    texts:[{p:I("NaK"),dx:11,dy:32}]}
];

// ---------------- DRAW ----------------
const svg = d3.select("#chart");
svg.append("rect").attr("width",576).attr("height",881).attr("fill","#fff");
const defs = svg.append("defs");

function addText(g, x, y, parts, o) {
  const size = o.size || 13;
  const t = g.append("text").attr("x", x).attr("y", y)
    .attr("font-family", o.family || labFont).attr("font-weight", o.weight || 700)
    .attr("font-style", o.italic === false ? "normal" : "italic")
    .attr("font-size", size).attr("fill", "#000");
  if (o.anchor) t.attr("text-anchor", o.anchor);
  if (o.central) t.attr("dominant-baseline", "central");
  if (o.rot != null) t.attr("transform", `rotate(${o.rot},${x},${y})`);
  if (o.len) t.attr("textLength", o.len).attr("lengthAdjust", "spacingAndGlyphs");
  let shift = 0;
  parts.forEach(p => {
    const s = t.append("tspan").text(p[0]);
    if (p[1] === "s") { s.attr("font-size", Math.round(size * 0.68 * 10) / 10).attr("dy", 3.5 - shift); shift = 3.5; }
    else if (shift) { s.attr("dy", -shift); shift = 0; }
  });
  return t;
}

function arrowPx(g, x0, y0, x1, y1, head, w) {
  g.append("line").attr("x1", x0).attr("y1", y0).attr("x2", x1).attr("y2", y1)
    .attr("stroke", "#000").attr("stroke-width", w);
  const a = Math.atan2(y1 - y0, x1 - x0);
  [a + Math.PI - 0.4, a + Math.PI + 0.4].forEach(b => {
    g.append("line").attr("x1", x1).attr("y1", y1)
      .attr("x2", x1 + head * Math.cos(b)).attr("y2", y1 + head * Math.sin(b))
      .attr("stroke", "#000").attr("stroke-width", w);
  });
}

panels.forEach((p, i) => {
  const x0 = colX[p.c], top = rowTop[p.s][p.r], bot = rowBot[p.s][p.r], axisY = bot + GAP;
  const xd = p.xd || vDomain;
  const x = d3.scaleLinear().domain(xd).range([x0, x0 + W]);
  const y = d3.scaleLinear().domain(p.yd).range([bot, top]);
  const g = svg.append("g");

  const xa = g.append("g").attr("transform", `translate(0,${axisY})`)
    .call(d3.axisBottom(x).tickValues(p.xt || vTicks).tickSize(-3).tickSizeOuter(0).tickPadding(4)
      .tickFormat(p.xl ? (d => String(d)) : ""));
  const step = p.xd ? 2 : (p.s === 0 ? 10 : 5);
  const xm = g.append("g").attr("transform", `translate(0,${axisY})`)
    .call(d3.axisBottom(x).tickValues(d3.range(xd[0], xd[1] + 0.001, step)).tickSize(-1.8).tickFormat(""));
  xm.select(".domain").remove();

  const ya = g.append("g").attr("transform", `translate(${x0},0)`)
    .call(d3.axisLeft(y).tickValues(p.yt).tickSize(-3).tickPadding(4).tickFormat(d => String(d)));
  ya.select(".domain").remove();
  if (p.minor) {
    const ym = g.append("g").attr("transform", `translate(${x0},0)`)
      .call(d3.axisLeft(y).tickValues(d3.range(Math.ceil(p.yd[0] / p.minor - 1e-6) * p.minor, p.yd[1] + 1e-9, p.minor)).tickSize(-1.6).tickFormat(""));
    ym.select(".domain").remove();
    ym.selectAll("line").attr("stroke", axisColor).attr("stroke-width", 0.8);
  }
  g.append("line").attr("x1", x0).attr("x2", x0).attr("y1", top - 1).attr("y2", axisY)
    .attr("stroke", axisColor).attr("stroke-width", 1);

  [xa, xm, ya].forEach(a => {
    a.select(".domain").attr("stroke", axisColor).attr("stroke-width", 1);
    a.selectAll(".tick line").attr("stroke", axisColor).attr("stroke-width", 0.9);
  });
  xa.selectAll("text").attr("font-family", tickFont).attr("font-size", 11.5).attr("fill", "#222");
  ya.selectAll("text").attr("font-family", tickFont).attr("font-size", 10).attr("fill", "#222");

  const cg = g.append("g");
  if (p.clip) {
    const id = "clip" + i;
    defs.append("clipPath").attr("id", id).append("rect")
      .attr("x", x0).attr("y", top - 3).attr("width", W + 1).attr("height", axisY - top + 3);
    cg.attr("clip-path", `url(#${id})`);
  }
  const line = d3.line().x(d => x(d[0])).y(d => y(d[1])).curve(d3.curveCatmullRom.alpha(0.5));
  p.curves.forEach(c => {
    cg.append("path").attr("d", line(c)).attr("fill", "none").attr("stroke", "#000")
      .attr("stroke-width", 1.3).attr("stroke-linejoin", "round").attr("stroke-linecap", "round");
  });

  if (p.box) {
    const bx0 = x(p.box[0][0]), bx1 = x(p.box[1][0]), by0 = y(p.box[0][1]), by1 = y(p.box[1][1]);
    g.append("rect").attr("x", Math.min(bx0, bx1)).attr("y", Math.min(by0, by1))
      .attr("width", Math.abs(bx1 - bx0)).attr("height", Math.abs(by1 - by0))
      .attr("fill", "none").attr("stroke", "#000").attr("stroke-width", 1.6).attr("stroke-dasharray", "5,3");
  }
  p.arrows.forEach(a => arrowPx(g, x(a[0][0]), y(a[0][1]), x(a[1][0]), y(a[1][1]), 6, 0.9));

  p.texts.forEach(t => {
    if (t.rot != null) addText(g, x0 + t.dx, top + t.dy, t.p, {anchor: "middle", central: true, rot: t.rot});
    else addText(g, x0 + t.dx, top + t.dy, t.p, {});
  });

  if (p.r === 2) {
    addText(g, x0 + W / 2, axisY + 30, [["V"], ["m", "s"], [" (mV)"]], {anchor: "middle", italic: false, size: 15});
  }
});

// headers
addText(svg, 7, 23, [["A) steady state rate dependence"]], {size: 20, len: 269});
addText(svg, 376, 22, [["CL (ms) ="]], {size: 14, italic: false});
clValuesA.forEach((v, k) => addText(svg, clCentersA[k], 22, [[v]], {size: 13, italic: false, anchor: "middle"}));
arrowPx(svg, 440, 6, 572, 6, 7, 1);
addText(svg, 7, 473, [["B) S1S2 restitution, S1 = 1000 ms"]], {size: 20, len: 267});
addText(svg, 346, 472, [["DI (ms) ="]], {size: 14, italic: false});
diValuesB.forEach((v, k) => addText(svg, diCentersB[k], 472, [[v]], {size: 13, italic: false, anchor: "middle"}));
arrowPx(svg, 410, 458, 572, 458, 7, 1);
</script></body></html>
